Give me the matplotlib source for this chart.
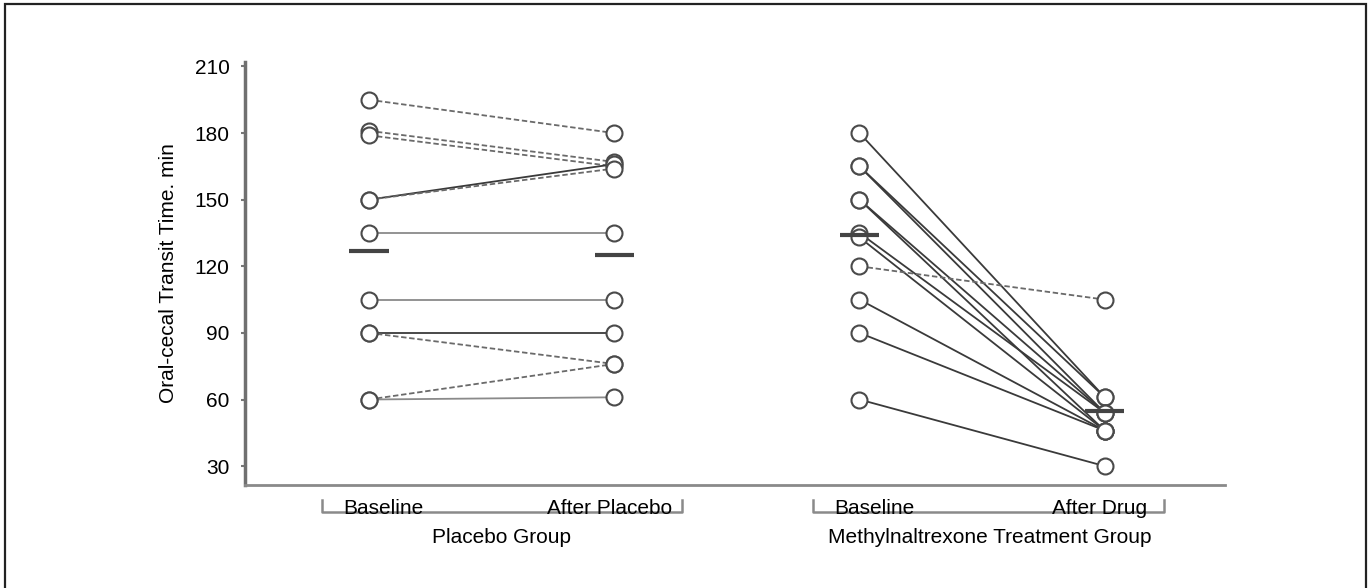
import numpy as np
import matplotlib.pyplot as plt
from matplotlib.patches import Rectangle

plt.rcParams['font.family'] = ['Liberation Sans', 'DejaVu Sans']

# data
conditions = ['Baseline', 'After Placebo', 'Baseline', 'After Drug']
groups = ['Placebo Group', 'Methylnaltrexone Treatment Group']

placebo_base = [195, 181, 179, 150, 150, 135, 105, 90, 90, 60, 60]
placebo_after = [180, 167, 165, 166, 164, 135, 105, 90, 76, 76, 61]
placebo_style = ['dash', 'dash', 'dash', 'dark', 'dash', 'light',
                 'light', 'dark', 'dash', 'dash', 'light']

drug_base = [180, 165, 165, 150, 150, 135, 133, 120, 105, 90, 60]
drug_after = [61, 61, 54, 54, 46, 54, 46, 105, 46, 46, 30]
drug_style = ['dark'] * 7 + ['dash'] + ['dark'] * 3

means = [127, 125, 134, 55]

yticks = [30, 60, 90, 120, 150, 180, 210]

styles = {
    'dark': dict(color='#3a3a3a', lw=1.3, ls='-'),
    'light': dict(color='#8a8a8a', lw=1.3, ls='-'),
    'dash': dict(color='#6a6a6a', lw=1.3, ls=(0, (3, 1.5))),
}

FS = 15

fig = plt.figure(figsize=(13.71, 5.88), dpi=100)
W, H = 1371, 588
ax = fig.add_axes([245 / W, 1 - 485 / H, (1225 - 245) / W, (485 - 62) / H])

# border around the figure
fig.patches.append(Rectangle((5 / W, -0.05), (1366 - 5) / W, 1.05 - 4 / H,
                             transform=fig.transFigure, fill=False,
                             edgecolor='#222222', lw=1.6))


def draw_group(x0, base, after, style):
    for b, a, s in zip(base, after, style):
        ax.plot([x0, x0 + 1], [b, a], zorder=2, **styles[s])
    ax.plot([x0] * len(base), base, 'o', ms=11.5, mfc='white', mec='#4a4a4a',
            mew=1.5, ls='none', zorder=3)
    ax.plot([x0 + 1] * len(after), after, 'o', ms=11.5, mfc='white',
            mec='#4a4a4a', mew=1.5, ls='none', zorder=3)


draw_group(0, placebo_base, placebo_after, placebo_style)
draw_group(2, drug_base, drug_after, drug_style)

# group means
for i, m in enumerate(means):
    ax.plot([i - 0.08, i + 0.08], [m, m], color='#444444', lw=3,
            solid_capstyle='butt', zorder=4)

ax.set_xlim(-0.505, 3.49)
ax.set_ylim(21.5, 212)
ax.set_yticks(yticks)
ax.tick_params(axis='y', labelsize=FS, length=3, width=1.5,
               color='#777777', pad=8)
ax.set_xticks([])
for side in ['top', 'right']:
    ax.spines[side].set_visible(False)
ax.spines['left'].set_color('#707070')
ax.spines['left'].set_linewidth(2.5)
ax.spines['bottom'].set_color('#8a8a8a')
ax.spines['bottom'].set_linewidth(2)

ax.set_ylabel('Oral-cecal Transit Time. min', fontsize=FS, labelpad=12)

# condition labels and group brackets below the axis
label_x = [0.06, 0.98, 2.06, 2.98]
trans = ax.get_xaxis_transform()
for x, lab in zip(label_x, conditions):
    ax.text(x, -0.055, lab, transform=trans, ha='center', va='center',
            fontsize=FS)

for (x1, x2), xc, g in zip([(-0.19, 1.276), (1.81, 3.24)], [0.54, 2.53], groups):
    ax.plot([x1, x1, x2, x2], [-0.035, -0.063, -0.063, -0.035],
            transform=trans, color='#8a8a8a', lw=1.8, clip_on=False)
    ax.text(xc, -0.125, g, transform=trans, ha='center', va='center',
            fontsize=FS)

fig.savefig('out.png', dpi=100)
